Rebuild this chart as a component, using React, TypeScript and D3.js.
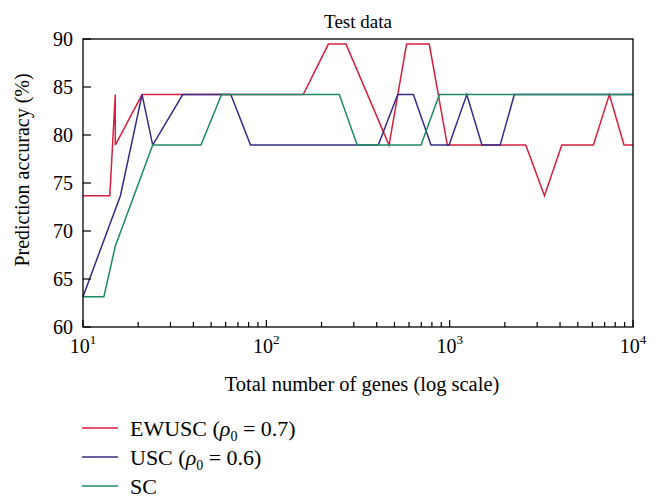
import React from 'react'
import * as d3 from 'd3'

// Gene counts (x) and prediction accuracy (%) for each classifier
const ewuscGenes = [10, 14, 15, 15, 21, 159, 218, 272, 467, 582, 774, 971, 2600, 3290, 4090, 6080, 7430, 8930, 10000]
const ewuscAcc = [73.68, 73.68, 84.21, 78.95, 84.21, 84.21, 89.47, 89.47, 78.95, 89.47, 89.47, 78.95, 78.95, 73.68, 78.95, 78.95, 84.21, 78.95, 78.95]

const uscGenes = [10, 16, 21, 24, 35, 64, 82, 408, 521, 634, 791, 993, 1240, 1500, 1885, 2253, 10000]
const uscAcc = [63.16, 73.68, 84.21, 78.95, 84.21, 84.21, 78.95, 78.95, 84.21, 84.21, 78.95, 78.95, 84.21, 78.95, 78.95, 84.21, 84.21]

const scGenes = [10, 13, 15, 24, 44, 57, 250, 313, 698, 879, 10000]
const scAcc = [63.16, 63.16, 68.42, 78.95, 78.95, 84.21, 84.21, 78.95, 78.95, 84.21, 84.21]

const yTicks = [60, 65, 70, 75, 80, 85, 90]
const xDecades = [1, 2, 3, 4]

const series = [
  { key: 'ewusc', genes: ewuscGenes, acc: ewuscAcc, color: '#d81f3f', label: 'EWUSC', rho: '0.7' },
  { key: 'usc', genes: uscGenes, acc: uscAcc, color: '#342c86', label: 'USC', rho: '0.6' },
  { key: 'sc', genes: scGenes, acc: scAcc, color: '#1e8c62', label: 'SC', rho: null },
]

const W = 660
const H = 503
const margin = { top: 39, right: 27, bottom: 176, left: 83 }
const font = '"Liberation Serif", "DejaVu Serif", serif'

export default function App() {
  const innerW = W - margin.left - margin.right
  const innerH = H - margin.top - margin.bottom

  const x = d3.scaleLog().domain([10, 10000]).range([0, innerW])
  const y = d3.scaleLinear().domain([60, 90]).range([innerH, 0])

  const minorTicks: number[] = []
  for (let k = 1; k < 4; k++) {
    for (let m = 2; m <= 9; m++) minorTicks.push(m * Math.pow(10, k))
  }

  return (
    <svg width={W} height={H} style={{ position: 'absolute', left: 0, top: 0, background: '#fff' }}
      fontFamily={font}>
      <text x={margin.left + innerW / 2} y={28} textAnchor="middle" fontSize={19}>Test data</text>

      <g transform={`translate(${margin.left},${margin.top})`}>
        {series.map(s => {
          const pts = s.genes.map((g, i) => [g, s.acc[i]] as [number, number])
          const line = d3.line<[number, number]>().x(d => x(d[0])).y(d => y(d[1]))
          return <path key={s.key} d={line(pts) || ''} fill="none" stroke={s.color} strokeWidth={1.5}
            strokeLinejoin="miter" />
        })}

        <rect x={0} y={0} width={innerW} height={innerH} fill="none" stroke="#000" strokeWidth={1.3} />

        {yTicks.map(t => (
          <g key={t} transform={`translate(0,${y(t)})`}>
            <line x1={0} x2={8} stroke="#000" strokeWidth={1.2} />
            <text x={-10} dy="0.35em" textAnchor="end" fontSize={20}>{t}</text>
          </g>
        ))}

        {minorTicks.map(t => (
          <line key={t} x1={x(t)} x2={x(t)} y1={innerH} y2={innerH - 5} stroke="#000" strokeWidth={1.2} />
        ))}
        {xDecades.map(k => (
          <g key={k} transform={`translate(${x(Math.pow(10, k))},${innerH})`}>
            <line y1={0} y2={-7} stroke="#000" strokeWidth={1.2} />
            <text y={26} textAnchor="middle" fontSize={20}>
              <tspan>10</tspan>
              <tspan dy={-9} fontSize={13}>{k}</tspan>
            </text>
          </g>
        ))}

        <text x={innerW / 2 + 4} y={innerH + 64} textAnchor="middle" fontSize={20.5}>
          Total number of genes (log scale)
        </text>
        <text transform={`translate(${-54},${131}) rotate(-90)`} textAnchor="middle" fontSize={20}>
          Prediction accuracy (%)
        </text>
      </g>

      <g transform="translate(82,428)">
        {series.map((s, i) => (
          <g key={s.key} transform={`translate(0,${i * 29})`}>
            <line x1={0} x2={36} stroke={s.color} strokeWidth={1.5} />
            <text x={48} dy="0.35em" fontSize={22}>
              <tspan>{s.label}</tspan>
              {s.rho && (
                <>
                  <tspan> (</tspan>
                  <tspan fontStyle="italic">ρ</tspan>
                  <tspan dy={5} fontSize={14}>0</tspan>
                  <tspan dy={-5}> = {s.rho})</tspan>
                </>
              )}
            </text>
          </g>
        ))}
      </g>
    </svg>
  )
}
